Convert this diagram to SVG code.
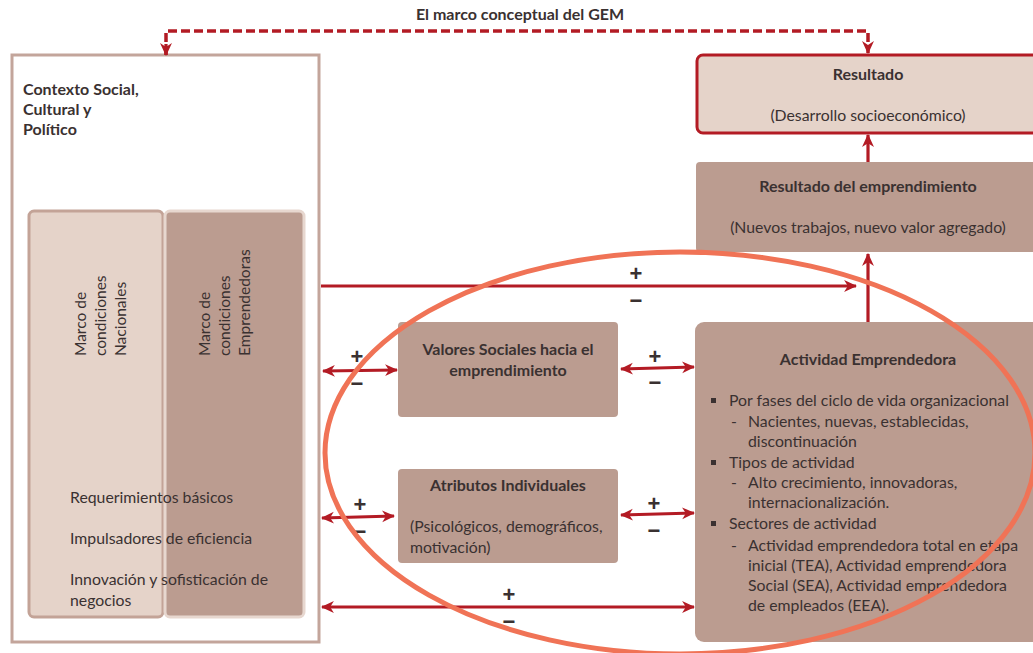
<svg xmlns="http://www.w3.org/2000/svg" width="1033" height="653" viewBox="0 0 1033 653">
<defs>
<style>
text{font-family:Lato,"Liberation Sans",sans-serif;fill:#3a3131;font-size:15.8px}
.b{font-weight:700;font-size:16px}
.c{text-anchor:middle}
.r{font-size:15.5px}
.pm{font-family:"Liberation Sans",sans-serif;font-weight:700;font-size:22px;text-anchor:middle;dominant-baseline:central}
.dark{fill:#bb9c90}
.light{fill:#e5d3c9}
.ar{stroke:#b31b24;stroke-width:3.2;fill:none}
</style>
<marker id="ah" viewBox="0 0 12 12" refX="11" refY="6" markerWidth="13" markerHeight="13" markerUnits="userSpaceOnUse" orient="auto-start-reverse">
<path d="M0,0.5 L12,6 L0,11.5 L3.5,6 Z" fill="#b31b24"/>
</marker>
</defs>
<rect width="1033" height="653" fill="#ffffff"/>
<text class="b c" x="520" y="20">El marco conceptual del GEM</text>

<g id="contexto">
<rect x="12" y="55" width="307" height="587" fill="#ffffff" stroke="#c3a59b" stroke-width="3"/>
<text class="b" x="23" y="95">Contexto Social,</text>
<text class="b" x="23" y="115">Cultural y</text>
<text class="b" x="23" y="135">Político</text>
</g>
<g id="marco-nacionales">
<rect x="29" y="211" width="134" height="406" rx="5" class="light" stroke="#c3a397" stroke-width="3"/>
<text class="r" transform="translate(86,356) rotate(-90)">Marco de</text>
<text class="r" transform="translate(106,356) rotate(-90)">condiciones</text>
<text class="r" transform="translate(126,356) rotate(-90)">Nacionales</text>
</g>
<g id="marco-emprendedoras">
<rect x="165" y="211" width="139" height="406" rx="5" class="dark" stroke="#e7d7cf" stroke-width="3"/>
<text class="r" transform="translate(210,356) rotate(-90)">Marco de</text>
<text class="r" transform="translate(230,356) rotate(-90)">condiciones</text>
<text class="r" transform="translate(250,356) rotate(-90)">Emprendedoras</text>
</g>
<g id="requerimientos">
<text x="70" y="503">Requerimientos básicos</text>
<text x="70" y="544">Impulsadores de eficiencia</text>
<text x="70" y="585">Innovación y sofisticación de</text>
<text x="70" y="606">negocios</text>
</g>

<g id="resultado">
<rect x="697" y="55" width="345" height="78" rx="6" class="light" stroke="#b31b24" stroke-width="3"/>
<text class="b c" x="868" y="80">Resultado</text>
<text class="c" x="868" y="121">(Desarrollo socioeconómico)</text>
</g>
<g id="resultado-emprendimiento">
<rect x="696" y="162" width="345" height="90" rx="4" class="dark"/>
<text class="b c" x="868" y="192">Resultado del emprendimiento</text>
<text class="c" x="868" y="233">(Nuevos trabajos, nuevo valor agregado)</text>
</g>
<g id="valores">
<rect x="398" y="322" width="220" height="95" rx="4" class="dark"/>
<text class="b c" x="508" y="355">Valores Sociales hacia el</text>
<text class="b c" x="508" y="376">emprendimiento</text>
</g>
<g id="atributos">
<rect x="398" y="469" width="220" height="94" rx="4" class="dark"/>
<text class="b c" x="508" y="491">Atributos Individuales</text>
<text x="410" y="532">(Psicológicos, demográficos,</text>
<text x="410" y="553">motivación)</text>
</g>
<g id="actividad">
<rect x="695" y="322" width="350" height="320" rx="9" class="dark"/>
<text class="b c" x="868" y="365">Actividad Emprendedora</text>
<rect x="711" y="398" width="5" height="5" fill="#3a3131"/>
<text x="729" y="406">Por fases del ciclo de vida organizacional</text>
<text x="731" y="427">-</text>
<text x="748" y="427">Nacientes, nuevas, establecidas,</text>
<text x="748" y="447">discontinuación</text>
<rect x="711" y="460" width="5" height="5" fill="#3a3131"/>
<text x="729" y="468">Tipos de actividad</text>
<text x="731" y="488">-</text>
<text x="748" y="488">Alto crecimiento, innovadoras,</text>
<text x="748" y="508">internacionalización.</text>
<rect x="711" y="521" width="5" height="5" fill="#3a3131"/>
<text x="729" y="529">Sectores de actividad</text>
<text x="731" y="551">-</text>
<text x="748" y="551">Actividad emprendedora total en etapa</text>
<text x="748" y="571">inicial (TEA), Actividad emprendedora</text>
<text x="748" y="591">Social (SEA), Actividad emprendedora</text>
<text x="748" y="611">de empleados (EEA).</text>
</g>

<g id="connectors">
<path d="M166,55 V31 H868 V53" fill="none" stroke="#b31b24" stroke-width="3.5" stroke-dasharray="9,4" marker-end="url(#ah)"/>
<path d="M166,44 V55" class="ar" marker-end="url(#ah)" stroke-width="3"/>
<line x1="868" y1="162" x2="868" y2="135" class="ar" marker-end="url(#ah)"/>
<line x1="868" y1="322" x2="868" y2="254" class="ar" marker-end="url(#ah)"/>
<line x1="321" y1="286" x2="856" y2="286" class="ar" marker-end="url(#ah)"/>
<line x1="323" y1="371" x2="397" y2="370" class="ar" marker-start="url(#ah)" marker-end="url(#ah)"/>
<line x1="621" y1="369" x2="694" y2="367" class="ar" marker-start="url(#ah)" marker-end="url(#ah)"/>
<line x1="322" y1="518" x2="394" y2="516" class="ar" marker-start="url(#ah)" marker-end="url(#ah)"/>
<line x1="621" y1="515" x2="694" y2="513" class="ar" marker-start="url(#ah)" marker-end="url(#ah)"/>
<line x1="322" y1="607" x2="694" y2="607" class="ar" marker-start="url(#ah)" marker-end="url(#ah)"/>
<text class="pm" x="636" y="273">+</text><text class="pm" x="636" y="300">−</text>
<text class="pm" x="357" y="356">+</text><text class="pm" x="357" y="383">−</text>
<text class="pm" x="655" y="356">+</text><text class="pm" x="655" y="382">−</text>
<text class="pm" x="360" y="504">+</text><text class="pm" x="360" y="531">−</text>
<text class="pm" x="654" y="503">+</text><text class="pm" x="654" y="530">−</text>
<text class="pm" x="509" y="594">+</text><text class="pm" x="509" y="621">−</text>
</g>

<ellipse id="circulo" cx="680" cy="453" rx="355" ry="201" fill="none" stroke="#f07356" stroke-width="5"/>
</svg>
